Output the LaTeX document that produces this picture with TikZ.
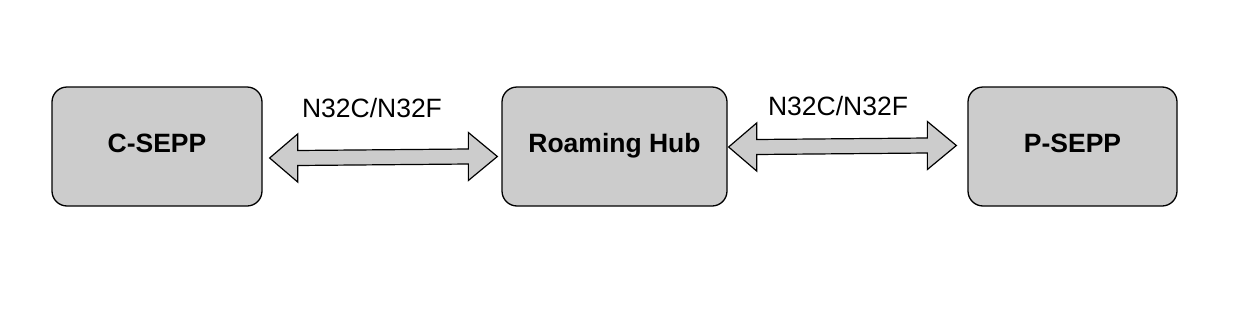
\documentclass[tikz,border=0pt]{standalone}
\usepackage{fontspec}
\setmainfont{Liberation Sans}
\usetikzlibrary{calc}
\definecolor{pBoxGray}{HTML}{CCCCCC}
\newcommand{\pLinkArrow}[2]{%
  \draw[linkarrow] (#1) -- ($(#1)+(28,-24)$) -- ($(#1)+(28,-7.5)$) -- ($(#2)+(-29,-7.5)$) -- ($(#2)+(-29,-24)$) -- (#2)
    -- ($(#2)+(-29,24)$) -- ($(#2)+(-29,7.5)$) -- ($(#1)+(28,7.5)$) -- ($(#1)+(28,24)$) -- cycle;}

\begin{document}
\begin{tikzpicture}[x=1pt,y=-1pt,
  sepp/.style={draw, line width=1.3pt, fill=pBoxGray, rounded corners=15pt, minimum height=119pt,
    text height=18pt, text depth=7pt, font=\fontsize{26.5}{31}\selectfont\bfseries},
  linkarrow/.style={draw, line width=1.2pt, fill=pBoxGray, line join=miter},
  linklabel/.style={anchor=base, inner sep=0pt, font=\fontsize{26.5}{31}\selectfont}]
\useasboundingbox (0,0) rectangle (1259,327);
\node[sepp, minimum width=210pt] (csepp) at (157,146.5) {C-SEPP};
\node[sepp, minimum width=225pt] (hub) at (614.5,146.5) {Roaming Hub};
\node[sepp, minimum width=209pt] (psepp) at (1072.5,146.5) {P-SEPP};
\coordinate (cTip) at ($(csepp.east)+(7,11.5)$);
\coordinate (hTipL) at ($(hub.west)+(-4,10)$);
\coordinate (hTipR) at ($(hub.east)+(1,0.5)$);
\coordinate (pTip) at ($(psepp.west)+(-11,-1)$);
\pLinkArrow{cTip}{hTipL}
\pLinkArrow{hTipR}{pTip}
\node[linklabel] (lblLeft) at (372,117) {N32C/N32F};
\node[linklabel] (lblRight) at (838,115) {N32C/N32F};
\end{tikzpicture}
\end{document}
